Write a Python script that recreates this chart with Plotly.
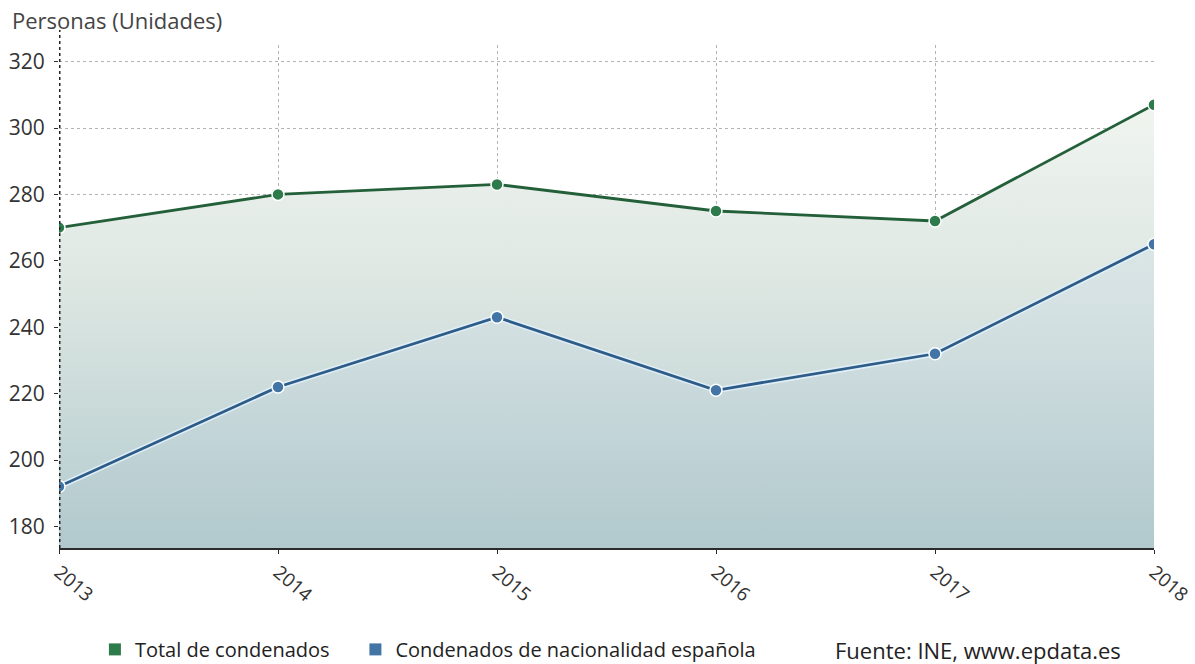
import plotly.graph_objects as go

years = [2013, 2014, 2015, 2016, 2017, 2018]
total_condenados = [270, 280, 283, 275, 272, 307]
condenados_espanoles = [192, 222, 243, 221, 232, 265]
y_ticks = [180, 200, 220, 240, 260, 280, 300, 320]

Y_MIN, Y_MAX = 173.5, 325
GREEN_LINE, GREEN_MARK = "#23603a", "#2d7a4a"
BLUE_LINE, BLUE_MARK = "#2d5c88", "#4275a6"
FONT = "Open Sans"
LEGEND_Y = 0.022       # container fraction, bottom band
SOURCE_Y = -0.202      # same band, in plot-paper units
PAD = "\u00a0" * 4

fig = go.Figure()

# area under the total series, fading from pale green to grey-teal
fig.add_trace(go.Scatter(
    x=years, y=total_condenados, mode="lines", fill="tozeroy",
    line=dict(width=0, color="rgba(0,0,0,0)"),
    fillgradient=dict(type="vertical", start=Y_MIN, stop=Y_MAX,
                      colorscale=[[0, "#b3cbcf"], [0.55, "#dfe8e3"], [1, "#f6f9f4"]]),
    showlegend=False, hoverinfo="skip"))

# slightly bluer area under the Spanish-nationality series
fig.add_trace(go.Scatter(
    x=years, y=condenados_espanoles, mode="lines", fill="tozeroy",
    line=dict(width=0, color="rgba(0,0,0,0)"),
    fillgradient=dict(type="vertical", start=Y_MIN, stop=Y_MAX,
                      colorscale=[[0, "#b1c9cd"], [0.45, "#d3e0e1"], [1, "#eef3f3"]]),
    showlegend=False, hoverinfo="skip"))

# light halo behind the blue line
fig.add_trace(go.Scatter(
    x=years, y=condenados_espanoles, mode="lines",
    line=dict(width=6, color="rgba(225,240,250,0.9)"),
    showlegend=False, hoverinfo="skip"))

fig.add_trace(go.Scatter(
    x=years, y=total_condenados, mode="lines+markers",
    line=dict(width=2.8, color=GREEN_LINE),
    marker=dict(size=12, color=GREEN_MARK, line=dict(width=1.5, color="white")),
    name="Total de condenados", showlegend=False))

fig.add_trace(go.Scatter(
    x=years, y=condenados_espanoles, mode="lines+markers",
    line=dict(width=2.8, color=BLUE_LINE),
    marker=dict(size=12, color=BLUE_MARK, line=dict(width=1.5, color="white")),
    name="Condenados de nacionalidad española", showlegend=False))

# legend entries drawn as squares
for name, col in [("Total de condenados" + PAD, GREEN_MARK),
                  ("Condenados de nacionalidad española", BLUE_MARK)]:
    fig.add_trace(go.Scatter(
        x=[None], y=[None], mode="markers", name=name,
        marker=dict(symbol="square", size=12, color=col)))

fig.update_layout(
    width=1195, height=664,
    margin=dict(l=59, r=41, t=45, b=116),
    paper_bgcolor="white", plot_bgcolor="white",
    font=dict(family=FONT, size=20, color="#333"),
    legend=dict(orientation="h", x=0.0328, xref="paper", y=LEGEND_Y, yref="container",
                xanchor="left", yanchor="middle",
                font=dict(family=FONT, size=20, color="#222"),
                itemwidth=30, tracegroupgap=0, bgcolor="rgba(0,0,0,0)"),
    xaxis=dict(range=[2013, 2018], tickvals=years, ticktext=[str(y) for y in years],
               tickangle=40, showgrid=True, gridcolor="#b3b3b3", griddash="dot", gridwidth=1,
               showline=True, linecolor="#2b2b2b", linewidth=2,
               ticks="outside", ticklen=4, tickcolor="#2b2b2b", automargin=False,
               ticklabeloverflow="allow",
               tickfont=dict(size=19, color="#333"), zeroline=False),
    yaxis=dict(range=[Y_MIN, Y_MAX], tickvals=y_ticks, showgrid=True,
               gridcolor="#b3b3b3", griddash="dot", gridwidth=1,
               showline=False, ticks="outside", ticklen=4, tickcolor="#2b2b2b",
               ticklabelstandoff=5, automargin=False,
               tickfont=dict(size=21, color="#333"), zeroline=False),
    annotations=[
        dict(text="Personas (Unidades)", xref="paper", yref="paper",
             x=-0.0447, y=1.0, yshift=25, xanchor="left", yanchor="middle",
             showarrow=False, font=dict(family=FONT, size=22, color="#444")),
        dict(text="Fuente: INE, www.epdata.es", xref="paper", yref="paper",
             x=0.9717, y=SOURCE_Y, xanchor="right", yanchor="middle",
             showarrow=False, font=dict(family=FONT, size=22, color="#222")),
    ],
    shapes=[
        dict(type="line", xref="x", yref="paper", x0=2013, x1=2013, y0=0, y1=1.03,
             line=dict(color="#222", width=3, dash="dot")),
    ],
)

fig.write_html("out.html")
